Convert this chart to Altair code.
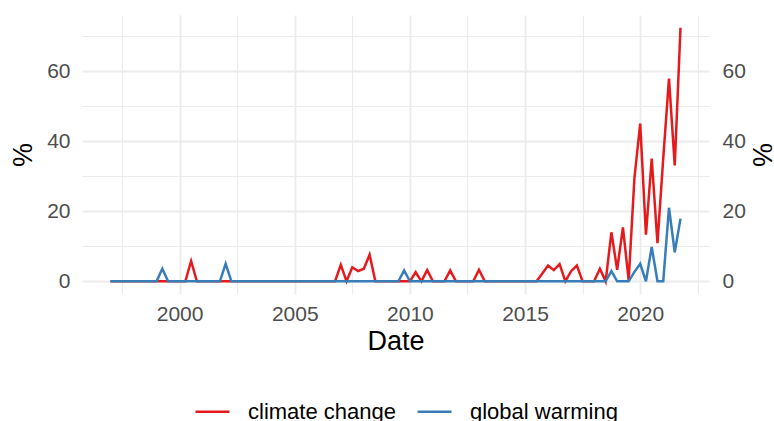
import altair as alt
import pandas as pd

# Quarterly observations, 1997 Q1 .. 2021 Q4 (decimal year of each quarter)
years = [1997 + q / 4 for q in range(100)]

climate_change = [
    0, 0, 0, 0,   0, 0, 0, 0,   0, 0, 0, 0,   0, 0, 5.8, 0,   # 1997-2000
    0, 0, 0, 0,   0, 0, 0, 0,   0, 0, 0, 0,   0, 0, 0, 0,     # 2001-2004
    0, 0, 0, 0,   0, 0, 0, 0,   4.7, 0, 4.0, 2.9,             # 2005-2007
    3.6, 7.6, 0, 0,   0, 0, 0, 0,   0, 2.6, 0, 3.2,           # 2008-2010
    0, 0, 0, 3.1,   0, 0, 0, 0,   3.3, 0, 0, 0,               # 2011-2013
    0, 0, 0, 0,   0, 0, 0, 2.2,   4.5, 3.2, 4.9, 0,           # 2014-2016
    2.9, 4.5, 0, 0,   0, 3.6, 0, 14.0,   3.3, 15.4, 0.3, 29.5,  # 2017-2019
    45.0, 13.3, 35.0, 10.9,   35.0, 57.9, 33.1, 72.4,         # 2020-2021
]

global_warming = [
    0, 0, 0, 0,   0, 0, 0, 0,   0, 3.6, 0, 0,   0, 0, 0, 0,   # 1997-2000
    0, 0, 0, 0,   5.0, 0, 0, 0,   0, 0, 0, 0,   0, 0, 0, 0,   # 2001-2004
    0, 0, 0, 0,   0, 0, 0, 0,   0, 0, 0, 0,                   # 2005-2007
    0, 0, 0, 0,   0, 0, 0, 3.1,   0, 0, 0, 0,                 # 2008-2010
    0, 0, 0, 0,   0, 0, 0, 0,   0, 0, 0, 0,                   # 2011-2013
    0, 0, 0, 0,   0, 0, 0, 0,   0, 0, 0, 0,                   # 2014-2016
    0, 0, 0, 0,   0, 0, 0, 2.9,   0, 0, 0, 2.7,               # 2017-2019
    5.0, 0, 9.8, 0,   0, 21.0, 8.3, 17.9,                     # 2020-2021
]

series_names = ["climate change", "global warming"]
series_colors = ["#E41A1C", "#377EB8"]

df = pd.concat([
    pd.DataFrame({"Date": years, "pct": climate_change, "term": series_names[0]}),
    pd.DataFrame({"Date": years, "pct": global_warming, "term": series_names[1]}),
])

x_ticks = [1997.5 + 2.5 * k for k in range(11)]
y_ticks = [0, 10, 20, 30, 40, 50, 60, 70]
x_domain = [1995.7625, 2022.9875]
y_domain = [-3.62, 76.02]

FONT = "Liberation Sans"
GRID = "#EBEBEB"
LABEL = "#4D4D4D"

x_enc = alt.X(
    "Date:Q",
    scale=alt.Scale(domain=x_domain, nice=False, zero=False),
    axis=alt.Axis(
        values=x_ticks,
        labelExpr="datum.value % 5 == 0 ? format(datum.value, 'd') : ''",
        grid=True, gridColor=GRID,
        gridWidth={"condition": {"test": "datum.value % 5 == 0", "value": 1.8}, "value": 1.1},
        domain=False, ticks=False,
        labelFontSize=21, labelColor=LABEL, labelPadding=9, labelFont=FONT,
        title="Date", titleFontSize=27, titleColor="black", titleFontWeight="normal",
        titleFont=FONT, titlePadding=4,
    ),
)

y_scale = alt.Scale(domain=y_domain, nice=False, zero=False)

lines = alt.Chart(df).mark_line(strokeWidth=2.5).encode(
    x=x_enc,
    y=alt.Y(
        "pct:Q", scale=y_scale,
        axis=alt.Axis(
            values=y_ticks,
            labelExpr="datum.value % 20 == 0 ? format(datum.value, 'd') : ''",
            grid=True, gridColor=GRID,
            gridWidth={"condition": {"test": "datum.value % 20 == 0", "value": 1.8}, "value": 1.1},
            domain=False, ticks=False,
            labelFontSize=21, labelColor=LABEL, labelPadding=12, labelFont=FONT,
            title="%", titleFontSize=27, titleColor="black", titleFontWeight="normal",
            titleFont=FONT, titlePadding=9,
        ),
    ),
    color=alt.Color(
        "term:N",
        scale=alt.Scale(domain=series_names, range=series_colors),
        legend=alt.Legend(
            title=None, orient="none", legendX=112, legendY=378,
            direction="horizontal", symbolType="stroke", symbolSize=1156,
            symbolStrokeWidth=2.5, labelFontSize=22, labelColor="black",
            labelFont=FONT, labelOffset=17, columnPadding=16,
        ),
    ),
)

right_axis = alt.Chart(df).mark_line(opacity=0).encode(
    x=x_enc,
    y=alt.Y(
        "pct:Q", scale=y_scale,
        axis=alt.Axis(
            orient="right", values=y_ticks,
            labelExpr="datum.value % 20 == 0 ? format(datum.value, 'd') : ''",
            grid=False, domain=False, ticks=False,
            labelFontSize=21, labelColor=LABEL, labelPadding=13, labelFont=FONT,
            title="%", titleFontSize=27, titleColor="black", titleFontWeight="normal",
            titleFont=FONT, titlePadding=1,
        ),
    ),
    detail="term:N",
)

chart = alt.layer(lines, right_axis).resolve_scale(y="independent").properties(
    width=627, height=279,
    autosize=alt.AutoSizeParams(type="none"),
    padding={"left": 82, "top": 15, "right": 65, "bottom": 127},
).configure(font=FONT).configure_view(stroke=None)

chart.save("out.html", embed_options={"renderer": "svg", "actions": False})
